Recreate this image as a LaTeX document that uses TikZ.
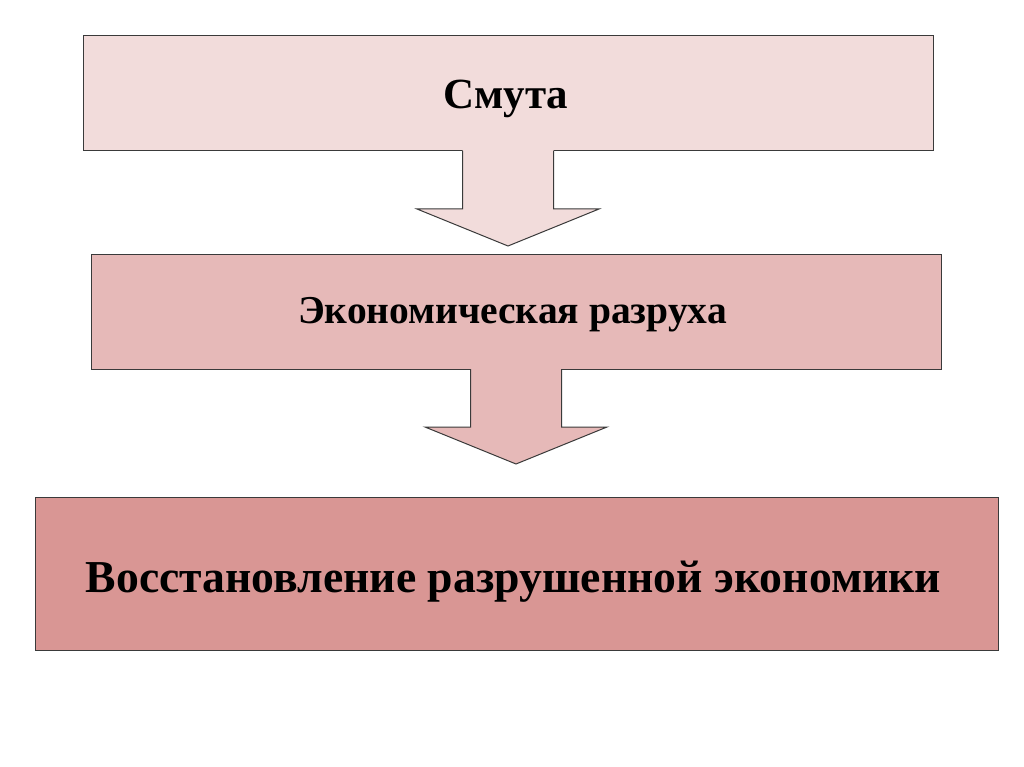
\documentclass[tikz,border=0pt]{standalone}
\usepackage{fontspec}
\setmainfont{Liberation Serif}
\usetikzlibrary{calc}
\definecolor{fillA}{HTML}{F2DCDB}
\definecolor{fillB}{HTML}{E6B9B8}
\definecolor{fillC}{HTML}{D99694}
\definecolor{edge}{HTML}{3A3A3A}
\tikzset{
  box/.style={draw=edge, line width=1pt, inner sep=0pt, outer sep=0pt},
  blockarrow/.style={draw=edge, line width=1pt, line join=miter},
  lbl/.style={anchor=base, inner sep=0pt}
}
\begin{document}
\begin{tikzpicture}[x=1pt,y=-1pt]
\useasboundingbox[fill=white] (0,0) rectangle (1024,767);
% boxes
\node[box, fill=fillA, minimum width=850pt, minimum height=115pt] (b1) at (508,93.5) {};
\node[box, fill=fillB, minimum width=850pt, minimum height=115pt] (b2) at (516,311.5) {};
\node[box, fill=fillC, minimum width=963pt, minimum height=153pt] (b3) at (516.5,573.5) {};
% arrow 1
\fill[fillA] ($(b1.south)+(-45.5,-1)$) -- ($(b1.south)+(-45.5,58)$) -- ($(b1.south)+(-91,58)$)
  -- ($(b1.south)+(0,95)$) -- ($(b1.south)+(91,58)$) -- ($(b1.south)+(45.5,58)$) -- ($(b1.south)+(45.5,-1)$) -- cycle;
\draw[blockarrow] ($(b1.south)+(-45.5,0)$) -- ($(b1.south)+(-45.5,58)$) -- ($(b1.south)+(-91,58)$)
  -- ($(b1.south)+(0,95)$) coordinate (t1) -- ($(b1.south)+(91,58)$) -- ($(b1.south)+(45.5,58)$) -- ($(b1.south)+(45.5,0)$);
% arrow 2
\fill[fillB] ($(b2.south)+(-45.5,-1)$) -- ($(b2.south)+(-45.5,58)$) -- ($(b2.south)+(-91,58)$)
  -- ($(b2.south)+(0,95)$) -- ($(b2.south)+(91,58)$) -- ($(b2.south)+(45.5,58)$) -- ($(b2.south)+(45.5,-1)$) -- cycle;
\draw[blockarrow] ($(b2.south)+(-45.5,0)$) -- ($(b2.south)+(-45.5,58)$) -- ($(b2.south)+(-91,58)$)
  -- ($(b2.south)+(0,95)$) coordinate (t2) -- ($(b2.south)+(91,58)$) -- ($(b2.south)+(45.5,58)$) -- ($(b2.south)+(45.5,0)$);
% texts
\node[lbl, font=\fontsize{43}{49}\selectfont\bfseries] (l1) at (506,109) {Смута};
\node[lbl, font=\fontsize{39.5}{45}\selectfont\bfseries] (l2) at (512.5,323) {Экономическая разруха};
\node[lbl, font=\fontsize{45.7}{52}\selectfont\bfseries] (l3) at (513.5,592) {Восстановление разрушенной экономики};
\end{tikzpicture}
\end{document}
